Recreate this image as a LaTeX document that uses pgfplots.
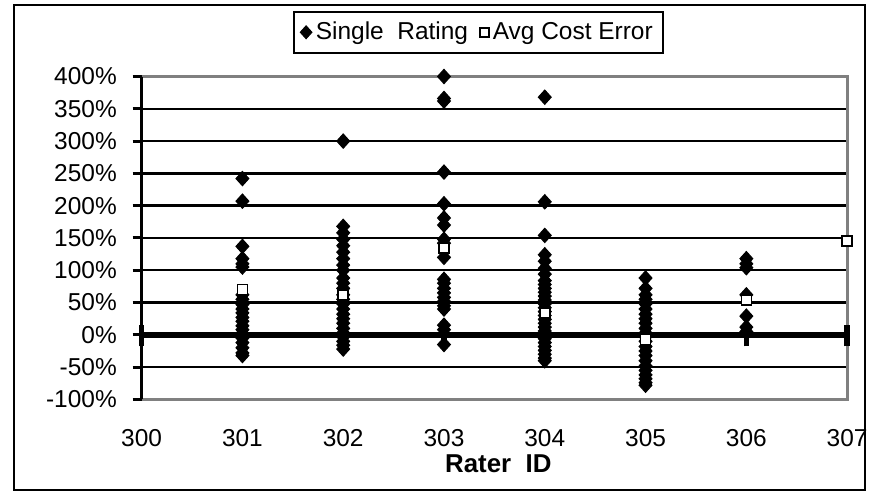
\documentclass[border=0pt]{standalone}
\usepackage{fontspec}
\setmainfont{Liberation Sans}
\usepackage{pgfplots}
\pgfplotsset{compat=1.18}
\begin{document}
\newcommand\lab{\fontsize{12.3bp}{14bp}\selectfont}
\begin{tikzpicture}
\useasboundingbox (0,0) rectangle (435bp,247.5bp);
\fill[white] (0,0) rectangle (435bp,247.5bp);
\draw[line width=1bp] (4.5bp,1bp) rectangle (432.5bp,245bp);
\begin{axis}[
  at={(68.5bp,46.5bp)}, anchor=south west,
  scale only axis, width=355bp, height=162.5bp,
  xmin=300, xmax=307, ymin=-100, ymax=400,
  clip=false,
  axis line style={draw=none},
  xtick={300,301,302,303,304,305,306,307},
  xticklabels={300,301,302,303,304,305,306,307},
  ytick={-100,-50,0,50,100,150,200,250,300,350,400},
  yticklabels={-100\%,-50\%,0\%,50\%,100\%,150\%,200\%,250\%,300\%,350\%,400\%},
  /pgf/number format/assume math mode=true,
  tick label style={font=\lab},
  tick pos=left,
  tick align=outside,
  major tick length=4.5bp,
  xtick style={draw=none},
  ytick style={black,line width=1.5bp},
  xticklabel style={inner sep=0pt, yshift=-10.5bp},
  yticklabel style={xshift=-4.5bp},
  ymajorgrids, grid style={black,line width=1.2bp},
  xlabel={Rater\ \ ID},
  xlabel style={font=\fontsize{13bp}{15bp}\selectfont\bfseries, inner sep=0pt, at={(axis description cs:0.5056,-0.198)}, anchor=center},
  legend style={at={(axis description cs:0.4775,1.137)}, anchor=center, draw=black, line width=1bp, font=\lab, inner sep=3bp,
    /tikz/every even column/.append style={column sep=4bp}},
  legend columns=2,
  legend image post style={scale=0.9},
]
\draw[gray, line width=1.5bp] (rel axis cs:0,1) -- (rel axis cs:1,1) -- (rel axis cs:1,0) -- (rel axis cs:0,0);
\draw[black, line width=1.5bp] (rel axis cs:0,0) -- (rel axis cs:0,1);
\draw[black, line width=3bp] (axis cs:300,0) -- (axis cs:307,0);
\pgfplotsinvokeforeach{300,301,302,303,304,305,306,307}{
  \draw[black, line width=2.8bp] (axis cs:#1,-18) -- (axis cs:#1,16);
}
\addplot[only marks, mark=diamond*, mark size=3.6bp, mark options={xscale=1.2, fill=black, draw=black, line width=0.5bp}] coordinates {
(301,242) (301,207) (301,137) (301,118) (301,110) (301,105)
(301,62) (301,55) (301,47) (301,40) (301,34) (301,27) (301,21) (301,14) (301,8) (301,2) (301,-5) (301,-12) (301,-20) (301,-28) (301,-32)
(302,300) (302,168) (302,158) (302,148) (302,138) (302,128) (302,118) (302,108) (302,100)
(302,88) (302,80) (302,72) (302,62) (302,55) (302,48) (302,40) (302,32) (302,25) (302,18) (302,10) (302,3) (302,-3) (302,-10) (302,-16) (302,-22)
(303,400) (303,366) (303,362) (303,252) (303,203) (303,181) (303,170) (303,148) (303,142) (303,120)
(303,86) (303,80) (303,72) (303,65) (303,58) (303,52) (303,45) (303,40) (303,15) (303,8) (303,-15)
(304,368) (304,206) (304,154) (304,124) (304,114) (304,103) (304,94)
(304,84) (304,78) (304,72) (304,66) (304,60) (304,54) (304,48) (304,42) (304,36) (304,30) (304,24) (304,18) (304,12) (304,6) (304,0) (304,-6) (304,-12) (304,-18) (304,-24) (304,-30) (304,-36) (304,-40)
(305,88) (305,72) (305,62) (305,55) (305,48) (305,40) (305,32) (305,25) (305,18) (305,10) (305,3) (305,-3) (305,-10) (305,-18) (305,-25) (305,-32) (305,-40) (305,-48) (305,-55) (305,-62) (305,-68) (305,-74) (305,-78)
(306,118) (306,110) (306,104) (306,62) (306,29) (306,12) (306,5)
};
\addlegendentry{Single\ \ Rating}
\addplot[only marks, mark=square*, mark size=2.5bp, mark options={fill=white, draw=black, line width=0.8bp}] coordinates {
(301,70) (302,62) (303,134) (304,34) (305,-7) (306,54) (307,145)
};
\addlegendentry{Avg Cost Error}
\end{axis}
\end{tikzpicture}
\end{document}
